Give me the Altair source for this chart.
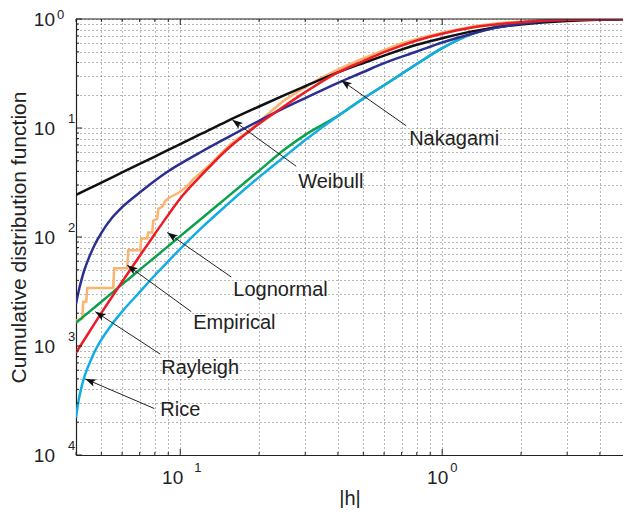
import altair as alt
import pandas as pd

FONT = "Liberation Sans"
W, H = 547, 436
X_DOMAIN = [0.04, 4.9]
Y_DOMAIN = [1e-4, 1.0]

# ---------------- data ----------------
x_common = [0.04, 0.045, 0.05, 0.06, 0.07, 0.08, 0.09, 0.1, 0.12, 0.15, 0.2, 0.25,
            0.3, 0.4, 0.5, 0.6, 0.8, 1.0, 1.3, 1.6, 2.0, 3.0, 5.3]
x_fine = [0.04, 0.041, 0.042, 0.043, 0.045, 0.047, 0.05, 0.055, 0.06, 0.07, 0.08, 0.09,
          0.1, 0.12, 0.15, 0.2, 0.25, 0.3, 0.4, 0.5, 0.6, 0.8, 1.0, 1.3, 1.6, 2.0, 3.0, 5.3]

weibull_y = [0.0243, 0.0279, 0.0316, 0.0391, 0.0468, 0.0547, 0.063, 0.0712, 0.0881, 0.1147,
             0.1575, 0.2002, 0.2416, 0.3237, 0.3948, 0.4617, 0.5808, 0.6654, 0.77, 0.8374,
             0.8915, 0.9591, 0.996]
lognormal_y = [0.000869, 0.001352, 0.002011, 0.00389, 0.0067, 0.01067, 0.01596, 0.02254,
               0.0365, 0.06283, 0.1093, 0.1591, 0.2132, 0.3237, 0.4116, 0.4968, 0.6356,
               0.7325, 0.8356, 0.8915, 0.9354, 0.9834, 1.0]
rayleigh_y = [0.001632, 0.002066, 0.002546, 0.003678, 0.005, 0.006518, 0.008253, 0.01019,
              0.01462, 0.02287, 0.04061, 0.0635, 0.0865, 0.1291, 0.1862, 0.2467, 0.3866,
              0.54, 0.731, 0.8461, 0.9296, 0.9876, 1.0]
nakagami_y = [0.00244, 0.00323, 0.00406, 0.00493, 0.00661, 0.00836, 0.01092, 0.01509,
              0.01879, 0.0256, 0.03289, 0.0401, 0.04691, 0.06026, 0.08072, 0.1164, 0.1527,
              0.1881, 0.26, 0.3264, 0.394, 0.5029, 0.6083, 0.7325, 0.8286, 0.9028,
              0.9793, 1.0]
rice_y = [0.000221, 0.000324, 0.000421, 0.000517, 0.000692, 0.000876, 0.001144, 0.001595,
          0.00207, 0.003125, 0.004457, 0.005981, 0.007785, 0.01199, 0.01951, 0.03545,
          0.05462, 0.07758, 0.1291, 0.1862, 0.2467, 0.3866, 0.54, 0.731, 0.8461,
          0.9296, 0.9876, 1.0]
empirical_x = [0.0401, 0.04227, 0.04264, 0.04378, 0.04416, 0.05549, 0.05598, 0.06276,
               0.06331, 0.07036, 0.07098, 0.07482, 0.07549, 0.07817, 0.07886, 0.08169,
               0.08241, 0.08536, 0.08763, 0.09158, 0.09826, 0.1054, 0.1121, 0.1192, 0.1302,
               0.1384, 0.1552, 0.185, 0.2206, 0.2472, 0.2871, 0.3422, 0.408, 0.4864, 0.58,
               0.6914, 0.8612, 1.0728, 1.3366, 1.665, 2.168, 2.821, 4.01, 5.3]
empirical_y = [0.001712, 0.001785, 0.002546, 0.002546, 0.003411, 0.003411, 0.005179,
               0.005179, 0.007544, 0.007544, 0.009692, 0.009692, 0.01098, 0.01098, 0.01411,
               0.01472, 0.01813, 0.0189, 0.02144, 0.0233, 0.02533, 0.02871, 0.03393,
               0.03846, 0.04642, 0.05373, 0.07048, 0.09641, 0.1404, 0.1767, 0.2223, 0.2856,
               0.352, 0.4248, 0.5019, 0.593, 0.6867, 0.7782, 0.8639, 0.9199, 0.9591,
               0.9876, 0.998, 1.0]

# annotations: label, text anchor, arrow tail, arrow tip (data units)
ann_labels = ["Nakagami", "Weibull", "Lognormal", "Empirical", "Rayleigh", "Rice"]
ann_text_x = [0.748, 0.2821, 0.1594, 0.1121, 0.08463, 0.08389]
ann_text_y = [0.07989, 0.03187, 0.003271, 0.001642, 0.0006284, 0.0002613]
ann_tail_x = [0.7288, 0.2772, 0.1566, 0.1102, 0.08389, 0.0796]
ann_tail_y = [0.1048, 0.04452, 0.004293, 0.002066, 0.0008418, 0.0002669]
ann_tip_x = [0.4116, 0.158, 0.0892, 0.06276, 0.04739, 0.0434]
ann_tip_y = [0.274, 0.1188, 0.01098, 0.005514, 0.002066, 0.0004993]

# axes: grid / tick values and decade labels
x_grid = [0.04, 0.05, 0.06, 0.07, 0.08, 0.09, 0.1, 0.2, 0.3, 0.4, 0.5, 0.6, 0.7, 0.8, 0.9,
          1.0, 2.0, 3.0, 4.0]
x_major = [0.1, 1.0]
y_grid = [m * 10.0 ** e for e in range(-4, 0) for m in range(1, 10)] + [1.0]
y_major = [1e-4, 1e-3, 1e-2, 1e-1, 1.0]
x_label_exp = [-1, 0]
y_label_exp = [0, -1, -2, -3, -4]

colors = {
    "Empirical": "#fbb36e",
    "Rayleigh": "#0aa14a",
    "Rice": "#12ace6",
    "Weibull": "#111111",
    "Nakagami": "#2b2f8f",
    "Lognormal": "#ec1c24",
}

# ---------------- chart ----------------
xs = alt.Scale(type="log", domain=X_DOMAIN, nice=False)
ys = alt.Scale(type="log", domain=Y_DOMAIN, nice=False)
GRID = dict(grid=True, gridColor="#6e6e6e", gridDash=[1, 3], gridWidth=1, labels=False,
            ticks=False, domain=True, domainColor="#222", domainWidth=1.2)
xaxis = alt.Axis(values=x_grid, title="|h|", titleFont=FONT, titleFontSize=20,
                 titleFontWeight="normal", titleColor="#222", titleY=43,
                 titleBaseline="middle", **GRID)
yaxis = alt.Axis(values=y_grid, title="Cumulative distribution function", titleFont=FONT,
                 titleFontSize=21, titleFontWeight="normal", titleColor="#222",
                 titleAngle=270, titleX=-57, titleY=H / 2, titleBaseline="middle", **GRID)


def X(f):
    return alt.X(f, type="quantitative", scale=xs, axis=xaxis)


def Y(f):
    return alt.Y(f, type="quantitative", scale=ys, axis=yaxis)


def curve(xv, yv, name):
    df = pd.DataFrame({"x": xv, "y": yv, "i": list(range(len(xv)))})
    interp = "linear" if name == "Empirical" else "monotone"
    return alt.Chart(df).mark_line(color=colors[name], strokeWidth=2.5,
                                   interpolate=interp, clip=True).encode(
        x=X("x"), y=Y("y"), order=alt.Order("i:Q"))


layers = []
layers.append(curve(empirical_x, empirical_y, "Empirical"))
layers.append(curve(x_common, rayleigh_y, "Rayleigh"))
layers.append(curve(x_fine, rice_y, "Rice"))
layers.append(curve(x_common, weibull_y, "Weibull"))
layers.append(curve(x_fine, nakagami_y, "Nakagami"))
layers.append(curve(x_common, lognormal_y, "Lognormal"))

# top frame line (the right side of the frame lies outside the picture)
layers.append(alt.Chart(pd.DataFrame({"x": [X_DOMAIN[0]], "x2": [X_DOMAIN[1]]}))
              .mark_rule(color="#222", strokeWidth=1.2)
              .encode(x=X("x"), x2="x2", y=alt.value(0)))

# inward tick marks
xt = pd.DataFrame({"x": x_grid, "major": [v in x_major for v in x_grid]})
yt = pd.DataFrame({"y": y_grid, "major": [any(abs(v - m) < 1e-12 for m in y_major) for v in y_grid]})
for major, ln in [(True, 6), (False, 3)]:
    xsub = alt.Chart(xt).transform_filter(alt.datum.major == major)
    layers.append(xsub.mark_rule(color="#222", strokeWidth=1).encode(
        x=X("x"), y=alt.value(H), y2=alt.value(H - ln)))
    layers.append(xsub.mark_rule(color="#222", strokeWidth=1).encode(
        x=X("x"), y=alt.value(0), y2=alt.value(ln)))
    ysub = alt.Chart(yt).transform_filter(alt.datum.major == major)
    layers.append(ysub.mark_rule(color="#222", strokeWidth=1).encode(
        y=Y("y"), x=alt.value(0), x2=alt.value(ln)))

# decade tick labels: "10" with a raised exponent digit
ylab = pd.DataFrame({"y": [10.0 ** e for e in y_label_exp],
                     "base": ["10"] * len(y_label_exp),
                     "sup": [str(abs(e)) for e in y_label_exp],
                     "neg": [e < 0 for e in y_label_exp]})
xlab = pd.DataFrame({"x": [10.0 ** e for e in x_label_exp],
                     "base": ["10"] * len(x_label_exp),
                     "sup": [str(abs(e)) for e in x_label_exp],
                     "neg": [e < 0 for e in x_label_exp]})
TXT = dict(font=FONT, color="#222")
layers.append(alt.Chart(ylab).mark_text(align="right", baseline="middle", fontSize=19,
                                        dy=1, **TXT).encode(
    y=Y("y"), x=alt.value(-21), text="base:N"))
for neg, xo, sdy in [(False, -19, -4), (True, -8, -9)]:
    layers.append(alt.Chart(ylab).transform_filter(alt.datum.neg == neg).mark_text(
        align="left", baseline="middle", fontSize=13, dy=sdy, **TXT).encode(
        y=Y("y"), x=alt.value(xo), text="sup:N"))
for neg, bdx, sdx in [(False, 6, 8), (True, 3, 14)]:
    sub = alt.Chart(xlab).transform_filter(alt.datum.neg == neg)
    layers.append(sub.mark_text(align="right", baseline="middle", fontSize=19, dx=bdx,
                                **TXT).encode(x=X("x"), y=alt.value(H + 23), text="base:N"))
    layers.append(sub.mark_text(align="left", baseline="middle", fontSize=13, dx=sdx,
                                **TXT).encode(x=X("x"), y=alt.value(H + 13), text="sup:N"))

# annotations with arrows
ann = pd.DataFrame({"label": ann_labels, "tx": ann_text_x, "ty": ann_text_y,
                    "ax": ann_tail_x, "ay": ann_tail_y, "px": ann_tip_x, "py": ann_tip_y})
layers.append(alt.Chart(ann).mark_rule(color="#222", strokeWidth=1).encode(
    x=X("ax"), y=Y("ay"), x2="px", y2="py"))
XSPAN = "(log(%g)/LN10 - log(%g)/LN10)" % (X_DOMAIN[1], X_DOMAIN[0])
arrow = (alt.Chart(ann)
         .transform_calculate(
             dxp="(log(datum.px) - log(datum.ax)) / LN10 * %d / %s" % (W, XSPAN),
             dyp="-(log(datum.py) - log(datum.ay)) / LN10 * %d / 4" % H)
         .transform_calculate(ang="(atan2(datum.dyp, datum.dxp) * 180 / PI + 360) % 360")
         .mark_point(shape="M0,0L-1,-0.36L-0.78,0L-1,0.36Z", filled=True, size=440,
                     color="#111", opacity=1)
         .encode(x=X("px"), y=Y("py"), angle=alt.Angle("ang:Q", scale=None)))
layers.append(arrow)
layers.append(alt.Chart(ann).mark_text(align="left", baseline="middle", fontSize=20,
                                       **TXT).encode(x=X("tx"), y=Y("ty"), text="label:N"))

chart = (alt.layer(*layers)
         .properties(width=W, height=H,
                     padding={"left": 68, "top": 11, "right": 0, "bottom": 53},
                     autosize=alt.AutoSizeParams(type="none"))
         .configure_view(stroke=None))

chart.save("out.html", embed_options={"renderer": "svg", "actions": False})
